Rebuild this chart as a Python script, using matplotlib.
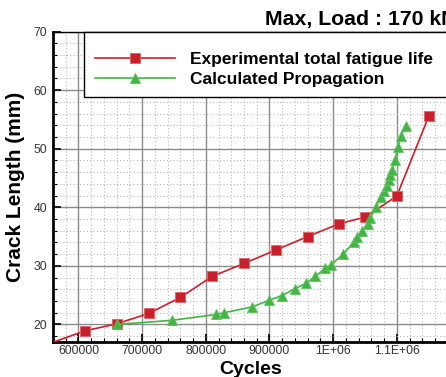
import matplotlib
matplotlib.use("Agg")
import matplotlib.pyplot as plt
from matplotlib.ticker import MultipleLocator
from matplotlib.patches import Rectangle

plt.rcParams['font.family'] = ['Liberation Sans', 'DejaVu Sans']

# Experimental total fatigue life
exp_cycles = [510000, 610000, 660000, 711000, 760000, 810000, 860000, 910000,
              960000, 1010000, 1050000, 1100000, 1150000]
exp_crack = [15.0, 18.9, 20.1, 21.9, 24.6, 28.2, 30.4, 32.7,
             35.0, 37.2, 38.3, 41.9, 55.5]

# Calculated propagation
calc_cycles = [660000, 747000, 816000, 829000, 873000, 899000, 919000, 940000,
               957000, 972000, 988000, 996000, 1016000, 1032000, 1038000,
               1046000, 1054000, 1058000, 1068000, 1075000, 1080000, 1084000,
               1088000, 1090000, 1093000, 1097000, 1102000, 1107000, 1114000]
calc_crack = [20.0, 20.7, 21.7, 22.0, 23.0, 24.1, 24.9, 26.1,
              27.0, 28.2, 29.6, 30.1, 32.0, 34.0, 34.9,
              36.0, 37.2, 38.1, 40.1, 41.8, 42.8, 43.6,
              44.7, 45.5, 46.4, 48.1, 50.3, 52.2, 53.9]

x_ticks = [600000, 700000, 800000, 900000, 1000000, 1100000]
x_tick_labels = ["600000", "700000", "800000", "900000", "1E+06", "1.1E+06"]
y_ticks = [20, 30, 40, 50, 60, 70]

W, H = 446, 377
fig = plt.figure(figsize=(W / 100, H / 100), dpi=100)
left, right, top, bottom = 53, 449, 31.5, 342
ax = fig.add_axes([left / W, 1 - bottom / H, (right - left) / W, (bottom - top) / H])

red = '#c8202a'
green = '#44b544'
ax.plot(exp_cycles, exp_crack, color=red, lw=1.2, marker='s', ms=6.8,
        mfc=red, mec='#e06068', mew=0.6, label='Experimental total fatigue life', zorder=4)
ax.plot(calc_cycles, calc_crack, color=green, lw=1.2, marker='^', ms=7.5,
        mfc=green, mec='#5cc45c', mew=0.6, label='Calculated Propagation', zorder=5)

ax.set_xlim(560000, 1182000)
ax.set_ylim(17.0, 70)
ax.set_xticks(x_ticks)
ax.set_xticklabels(x_tick_labels)
ax.set_yticks(y_ticks)
ax.xaxis.set_minor_locator(MultipleLocator(20000))
ax.yaxis.set_minor_locator(MultipleLocator(2))

ax.grid(which='major', color='#8a8a8a', lw=1.0, ls='-', zorder=1)
ax.grid(which='minor', color='#b8b8b8', lw=0.8, ls=(0, (1, 2)), zorder=1)
ax.set_axisbelow(True)

ax.tick_params(which='major', direction='in', length=6, width=1.2, color='black',
               labelsize=8.8, labelcolor='#333333', top=False, right=False)
ax.tick_params(axis='x', which='major', pad=2)
ax.tick_params(axis='y', which='major', pad=4)
ax.tick_params(which='minor', direction='in', length=3, width=0.8, color='black',
               top=False, right=False)

for s in ['left', 'bottom']:
    ax.spines[s].set_linewidth(2.0)
ax.spines['top'].set_linewidth(1.0)
ax.spines['right'].set_visible(False)

ax.set_xlabel('Cycles', fontsize=14, fontweight='bold', labelpad=3)
ax.set_ylabel('Crack Length (mm)', fontsize=15, fontweight='bold', labelpad=6)

fig.text(265 / W, 1 - 25 / H, 'Max, Load : 170 kN', fontsize=15.3, fontweight='bold',
         ha='left', va='baseline')

# legend frame (box extends past the right edge)
frame = Rectangle((84 / W, 1 - 97 / H), (470 - 84) / W, (97 - 31.5) / H,
                  transform=fig.transFigure, facecolor='white', edgecolor='black',
                  lw=1.0, zorder=9, clip_on=False)
ax.add_patch(frame)

leg = ax.legend(loc='upper left', bbox_to_anchor=(95 / W, 1 - 51.5 / H),
                bbox_transform=fig.transFigure, frameon=False,
                prop={'size': 12.5, 'weight': 'bold'}, handlelength=4.6,
                handletextpad=0.9, borderpad=0, labelspacing=0.28,
                borderaxespad=0)
leg.set_zorder(10)

fig.savefig('out.png', dpi=100)
